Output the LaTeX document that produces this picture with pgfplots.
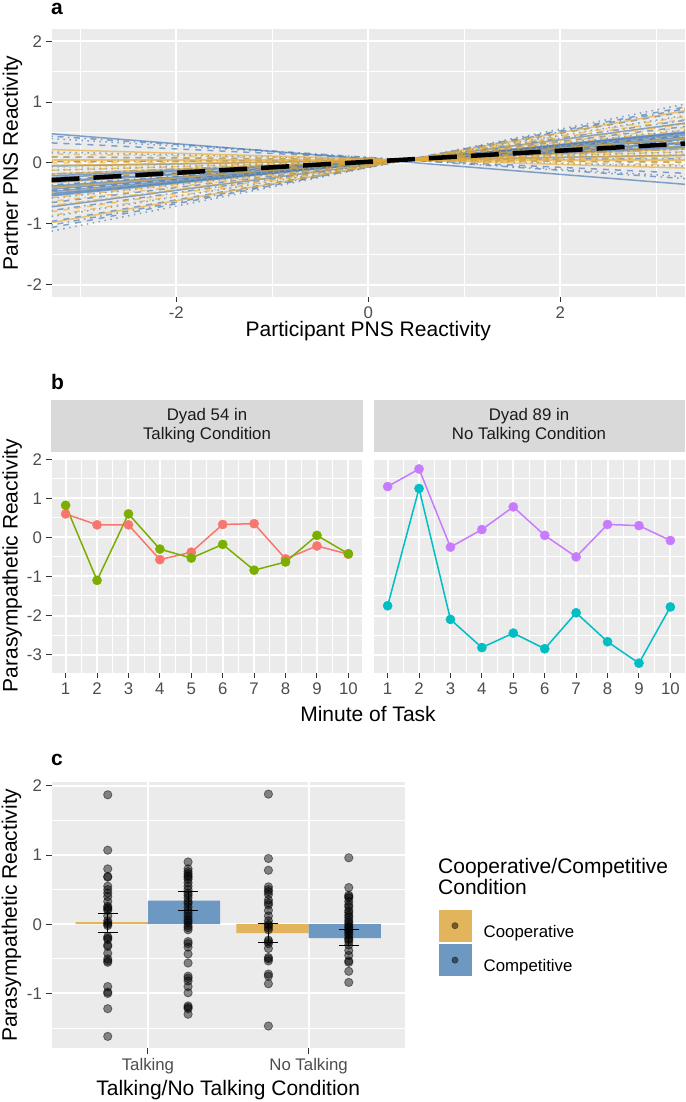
\documentclass[border=0pt]{standalone}
\usepackage{fontspec}
\setmainfont{Liberation Sans}
\usepackage{pgfplots}
\pgfplotsset{compat=1.18}
\definecolor{gray92}{HTML}{EBEBEB}
\definecolor{gray85}{HTML}{D9D9D9}
\definecolor{grey30}{HTML}{4D4D4D}
\definecolor{grey20}{HTML}{333333}
\definecolor{grey10}{HTML}{1A1A1A}
\definecolor{blueL}{HTML}{4A7CB7}
\definecolor{yelL}{HTML}{E6AA32}
\definecolor{barY}{HTML}{E2B55C}
\definecolor{barB}{HTML}{6C98C2}
\definecolor{cRed}{HTML}{F8766D}
\definecolor{cGreen}{HTML}{7CAE00}
\definecolor{cCyan}{HTML}{00BFC4}
\definecolor{cPurple}{HTML}{C77CFF}
\pgfplotsset{
  gg/.style={
    scale only axis,
    anchor=south west,
    axis background/.style={fill=gray92},
    axis line style={draw=none},
    grid=both,
    major grid style={white, line width=2pt},
    minor grid style={white, line width=1pt},
    tick align=outside,
    tick pos=left,
    major tick length=5.25pt,
    minor tick length=0pt,
    tick style={grey20, line width=1pt},
    tick label style={font=\fontsize{16.8}{18}\selectfont, text=grey30, inner sep=0pt},
    xticklabel style={anchor=north, yshift=-4.2pt},
    yticklabel style={anchor=east, xshift=-4.2pt},
    label style={font=\fontsize{21}{24}\selectfont, text=black, inner sep=0pt},
  },
  bl/.style={color=blueL, opacity=0.68, line width=1.5pt},
  yl/.style={color=yelL, opacity=0.65, line width=1.5pt},
  dsh/.style={dash pattern=on 6pt off 6pt},
  dot/.style={dash pattern=on 1.5pt off 4.5pt},
  dd/.style={dash pattern=on 1.5pt off 4.5pt on 6pt off 4.5pt},
  td/.style={dash pattern=on 3pt off 3pt on 9pt off 3pt},
  eb/.style={forget plot, black, line width=1pt},
}
\newcommand{\seg}[3]{\addplot[#1] coordinates {(-3.3,#2) (3.3,#3)};}
\begin{document}
\begin{tikzpicture}
\useasboundingbox (0,0) rectangle (685pt,1102pt);
% ---------------- panel a ----------------
\begin{axis}[gg, at={(51.5pt,805pt)}, width=633.5pt, height=268pt,
  xmin=-3.3, xmax=3.3, ymin=-2.2, ymax=2.2,
  xtick={-2,0,2}, xticklabels={-2,0,2},
  ytick={-2,-1,0,1,2}, yticklabels={-2,-1,0,1,2},
  minor xtick={-3,-1,1,3}, minor ytick={-1.5,-0.5,0.5,1.5},
  xlabel={Participant PNS Reactivity},
  ylabel={Partner PNS Reactivity},
  xlabel style={at={(axis description cs:0.5,0)}, anchor=base, yshift=-40pt},
  ylabel style={at={(axis description cs:-0.0529,0.5)}, anchor=base},
]
\seg{bl}{0.48}{-0.35}
\seg{bl,dd}{0.44}{-0.256}
\seg{bl,dot}{0.40}{-0.224}
\seg{bl,dsh}{0.33}{-0.169}
\seg{bl,dot}{0.18}{-0.052}
\seg{bl,dsh}{0.10}{0.011}
\seg{bl,dd}{0.02}{0.074}
\seg{bl}{-0.05}{0.128}
\seg{bl,dot}{-0.12}{0.183}
\seg{bl,td}{-0.18}{0.230}
\seg{bl}{-0.21}{0.254}
\seg{bl}{-0.24}{0.277}
\seg{bl,dsh}{-0.28}{0.309}
\seg{bl}{-0.30}{0.324}
\seg{bl}{-0.32}{0.340}
\seg{bl,dd}{-0.36}{0.371}
\seg{bl}{-0.38}{0.387}
\seg{bl}{-0.40}{0.403}
\seg{bl}{-0.43}{0.426}
\seg{bl,dsh}{-0.45}{0.442}
\seg{bl}{-0.47}{0.458}
\seg{bl}{-0.50}{0.481}
\seg{bl}{-0.52}{0.497}
\seg{bl}{-0.54}{0.512}
\seg{bl,dot}{-0.58}{0.544}
\seg{bl,dsh}{-0.65}{0.599}
\seg{bl}{-0.72}{0.654}
\seg{bl,dd}{-0.78}{0.701}
\seg{bl,dot}{-0.88}{0.779}
\seg{bl,dsh}{-0.96}{0.842}
\seg{bl,dd}{-1.02}{0.889}
\seg{bl,dsh}{-1.06}{0.920}
\seg{bl,dot}{-1.12}{0.967}
\seg{yl}{0.22}{-0.083}
\seg{yl,dd}{0.15}{-0.028}
\seg{yl,dsh}{0.10}{0.011}
\seg{yl}{0.05}{0.05}
\seg{yl,dsh}{0.00}{0.089}
\seg{yl}{-0.04}{0.121}
\seg{yl,dot}{-0.08}{0.152}
\seg{yl,dsh}{-0.12}{0.183}
\seg{yl}{-0.18}{0.230}
\seg{yl,dd}{-0.25}{0.285}
\seg{yl,dsh}{-0.32}{0.340}
\seg{yl}{-0.40}{0.403}
\seg{yl,dot}{-0.48}{0.465}
\seg{yl,dsh}{-0.57}{0.536}
\seg{yl,dd}{-0.63}{0.583}
\seg{yl,td}{-0.70}{0.638}
\seg{yl,dsh}{-0.80}{0.716}
\seg{yl,dd}{-0.86}{0.763}
\seg{yl}{-0.98}{0.857}
\addplot[black, line width=4.5pt, dash pattern=on 28pt off 14pt] coordinates {(-3.3,-0.28) (3.3,0.32)};
\end{axis}
% ---------------- panel b left ----------------
\begin{axis}[gg, at={(51.5pt,429pt)}, width=311pt, height=215pt,
  xmin=0.55, xmax=10.45, ymin=-3.47, ymax=2.03,
  xtick={1,2,3,4,5,6,7,8,9,10}, xticklabels={1,2,3,4,5,6,7,8,9,10},
  minor xtick={1.5,2.5,3.5,4.5,5.5,6.5,7.5,8.5,9.5},
  ytick={-3,-2,-1,0,1,2}, yticklabels={-3,-2,-1,0,1,2},
  minor ytick={-2.5,-1.5,-0.5,0.5,1.5},
  xlabel={Minute of Task},
  ylabel={Parasympathetic Reactivity},
  xlabel style={at={(axis description cs:1.0177,0)}, anchor=base, yshift=-49pt},
  ylabel style={at={(axis description cs:-0.1093,0.5)}, anchor=base},
  title={Dyad 54 in\\Talking Condition},
  title style={at={(axis description cs:0.5,1)}, anchor=south, fill=gray85, minimum width=311pt, minimum height=52pt, inner sep=0pt, align=center, font=\fontsize{16.8}{19.3}\selectfont, text=grey10, yshift=0pt},
]
\addplot[cRed, line width=1.5pt] coordinates {(1,0.60) (2,0.32) (3,0.32) (4,-0.57) (5,-0.38) (6,0.33) (7,0.35) (8,-0.55) (9,-0.22) (10,-0.43)};
\addplot[cGreen, line width=1.5pt] coordinates {(1,0.82) (2,-1.10) (3,0.60) (4,-0.30) (5,-0.53) (6,-0.18) (7,-0.84) (8,-0.63) (9,0.05) (10,-0.42)};
\addplot[cRed, only marks, mark=*, mark size=4.6pt] coordinates {(1,0.60) (2,0.32) (3,0.32) (4,-0.57) (5,-0.38) (6,0.33) (7,0.35) (8,-0.55) (9,-0.22) (10,-0.43)};
\addplot[cGreen, only marks, mark=*, mark size=4.6pt] coordinates {(1,0.82) (2,-1.10) (3,0.60) (4,-0.30) (5,-0.53) (6,-0.18) (7,-0.84) (8,-0.63) (9,0.05) (10,-0.42)};
\end{axis}
% ---------------- panel b right ----------------
\begin{axis}[gg, at={(373.5pt,429pt)}, width=311pt, height=215pt,
  xmin=0.55, xmax=10.45, ymin=-3.47, ymax=2.03,
  xtick={1,2,3,4,5,6,7,8,9,10}, xticklabels={1,2,3,4,5,6,7,8,9,10},
  minor xtick={1.5,2.5,3.5,4.5,5.5,6.5,7.5,8.5,9.5},
  ytick={-3,-2,-1,0,1,2}, yticklabels={},
  ytick style={draw=none},
  minor ytick={-2.5,-1.5,-0.5,0.5,1.5},
  title={Dyad 89 in\\No Talking Condition},
  title style={at={(axis description cs:0.5,1)}, anchor=south, fill=gray85, minimum width=311pt, minimum height=52pt, inner sep=0pt, align=center, font=\fontsize{16.8}{19.3}\selectfont, text=grey10, yshift=0pt},
]
\addplot[cCyan, line width=1.5pt] coordinates {(1,-1.75) (2,1.25) (3,-2.10) (4,-2.82) (5,-2.45) (6,-2.85) (7,-1.93) (8,-2.67) (9,-3.22) (10,-1.78)};
\addplot[cPurple, line width=1.5pt] coordinates {(1,1.30) (2,1.75) (3,-0.25) (4,0.20) (5,0.78) (6,0.05) (7,-0.50) (8,0.33) (9,0.30) (10,-0.08)};
\addplot[cCyan, only marks, mark=*, mark size=4.6pt] coordinates {(1,-1.75) (2,1.25) (3,-2.10) (4,-2.82) (5,-2.45) (6,-2.85) (7,-1.93) (8,-2.67) (9,-3.22) (10,-1.78)};
\addplot[cPurple, only marks, mark=*, mark size=4.6pt] coordinates {(1,1.30) (2,1.75) (3,-0.25) (4,0.20) (5,0.78) (6,0.05) (7,-0.50) (8,0.33) (9,0.30) (10,-0.08)};
\end{axis}
% ---------------- panel c ----------------
\begin{axis}[gg, at={(51.5pt,53.5pt)}, width=353.5pt, height=266.5pt,
  xmin=0.4, xmax=2.6, ymin=-1.795, ymax=2.055,
  xtick={1,2}, xticklabels={Talking,No Talking},
  ytick={-1,0,1,2}, yticklabels={-1,0,1,2},
  minor ytick={-1.5,-0.5,0.5,1.5},
  xlabel={Talking/No Talking Condition},
  ylabel={Parasympathetic Reactivity},
  xlabel style={at={(axis description cs:0.5,0)}, anchor=base, yshift=-46.5pt},
  ylabel style={at={(axis description cs:-0.0976,0.5)}, anchor=base},
  legend style={at={(1.0962,0.5197)}, anchor=north west, draw=none, fill=none, inner sep=0pt, outer sep=0pt, row sep=3pt, column sep=12.8pt, font=\fontsize{16.8}{18}\selectfont, nodes={inner sep=0pt, text=black}},
  legend cell align=left,
]
\addplot[forget plot, ybar, bar width=0.45, bar shift=0pt, fill=barY, draw=none] coordinates {(0.775,0.03) (1.775,-0.13)};
\addplot[forget plot, ybar, bar width=0.45, bar shift=0pt, fill=barB, draw=none] coordinates {(1.225,0.34) (2.225,-0.20)};
\addplot[forget plot, only marks, mark=*, mark size=4.2pt, mark options={fill=black, fill opacity=0.45, draw=black, draw opacity=0.45, line width=0.8pt}] coordinates {
(0.75,1.87) (0.75,1.07) (0.75,0.80) (0.75,0.69) (0.75,0.68) (0.75,0.55) (0.75,0.50) (0.75,0.45) (0.75,0.40) (0.75,0.33) (0.75,0.26) (0.75,0.24) (0.75,0.22) (0.75,0.20) (0.75,0.12) (0.75,0.05) (0.75,0.02) (0.75,0.00) (0.75,-0.02) (0.75,-0.18) (0.75,-0.20) (0.75,-0.22) (0.75,-0.30) (0.75,-0.32) (0.75,-0.42) (0.75,-0.50) (0.75,-0.53) (0.75,-0.55) (0.75,-0.90) (0.75,-0.98) (0.75,-1.00) (0.75,-1.22) (0.75,-1.62)
(1.25,0.90) (1.25,0.80) (1.25,0.76) (1.25,0.73) (1.25,0.70) (1.25,0.68) (1.25,0.65) (1.25,0.60) (1.25,0.55) (1.25,0.50) (1.25,0.45) (1.25,0.42) (1.25,0.38) (1.25,0.33) (1.25,0.30) (1.25,0.25) (1.25,0.20) (1.25,0.16) (1.25,0.12) (1.25,0.08) (1.25,0.05) (1.25,0.02) (1.25,-0.02) (1.25,-0.05) (1.25,-0.08) (1.25,-0.25) (1.25,-0.28) (1.25,-0.33) (1.25,-0.43) (1.25,-0.56) (1.25,-0.75) (1.25,-0.78) (1.25,-0.82) (1.25,-0.90) (1.25,-0.99) (1.25,-1.18) (1.25,-1.20) (1.25,-1.22) (1.25,-1.30)
(1.75,1.88) (1.75,0.95) (1.75,0.78) (1.75,0.54) (1.75,0.50) (1.75,0.47) (1.75,0.43) (1.75,0.35) (1.75,0.31) (1.75,0.28) (1.75,0.20) (1.75,0.12) (1.75,0.05) (1.75,0.00) (1.75,-0.02) (1.75,-0.05) (1.75,-0.08) (1.75,-0.23) (1.75,-0.25) (1.75,-0.28) (1.75,-0.35) (1.75,-0.48) (1.75,-0.50) (1.75,-0.53) (1.75,-0.72) (1.75,-0.75) (1.75,-0.86) (1.75,-1.47)
(2.25,0.96) (2.25,0.53) (2.25,0.42) (2.25,0.40) (2.25,0.38) (2.25,0.33) (2.25,0.28) (2.25,0.25) (2.25,0.20) (2.25,0.17) (2.25,0.13) (2.25,0.10) (2.25,0.06) (2.25,0.03) (2.25,0.00) (2.25,-0.03) (2.25,-0.05) (2.25,-0.08) (2.25,-0.10) (2.25,-0.13) (2.25,-0.16) (2.25,-0.20) (2.25,-0.22) (2.25,-0.25) (2.25,-0.30) (2.25,-0.38) (2.25,-0.45) (2.25,-0.53) (2.25,-0.55) (2.25,-0.68) (2.25,-0.84)
};
% error bars: vertical segments and caps
\addplot[eb] coordinates {(0.75,-0.117) (0.75,0.157)};
\addplot[eb] coordinates {(1.25,0.205) (1.25,0.479)};
\addplot[eb] coordinates {(1.75,-0.268) (1.75,0.004)};
\addplot[eb] coordinates {(2.25,-0.312) (2.25,-0.082)};
\addplot[eb, only marks, mark=-, mark size=10pt, mark options={line width=1pt}] coordinates {(0.75,0.157) (0.75,-0.117) (1.25,0.479) (1.25,0.205) (1.75,0.004) (1.75,-0.268) (2.25,-0.082) (2.25,-0.312)};
\addlegendimage{legend image code/.code={\fill[barY] (0pt,-9.3pt) rectangle (31.5pt,21.7pt); \fill[black, opacity=0.5] (15.75pt,6.2pt) circle (3.2pt);}}
\addlegendentry{Cooperative}
\addlegendimage{legend image code/.code={\fill[barB] (0pt,-9.3pt) rectangle (31.5pt,21.7pt); \fill[black, opacity=0.5] (15.75pt,6.2pt) circle (3.2pt);}}
\addlegendentry{Competitive}
\end{axis}
% ---------------- texts ----------------
\node[anchor=base west, inner sep=0pt, font=\fontsize{21}{24}\selectfont] at (438pt,228.7pt) {Cooperative/Competitive};
\node[anchor=base west, inner sep=0pt, font=\fontsize{21}{24}\selectfont] at (438pt,207pt) {Condition};
\node[anchor=base west, inner sep=0pt, font=\bfseries\fontsize{21}{24}\selectfont] at (51pt,1087pt) {a};
\node[anchor=base west, inner sep=0pt, font=\bfseries\fontsize{21}{24}\selectfont] at (51pt,712.5pt) {b};
\node[anchor=base west, inner sep=0pt, font=\bfseries\fontsize{21}{24}\selectfont] at (51pt,336.5pt) {c};
\end{tikzpicture}
\end{document}
